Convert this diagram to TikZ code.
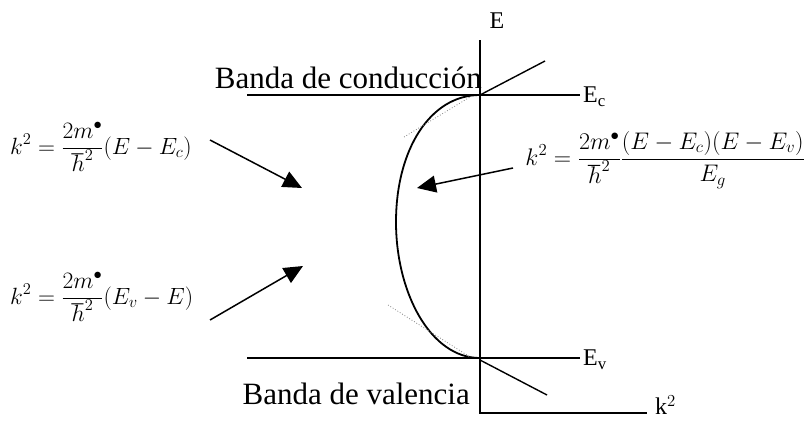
\RequirePackage{fix-cm}
\documentclass[tikz,border=0pt]{standalone}
\usepackage{fontspec}
\setmainfont{Liberation Serif}
\usetikzlibrary{arrows.meta}
\begin{document}
\begin{tikzpicture}[x=1pt,y=-1pt,
  axis/.style={line width=1.4pt},
  curve/.style={line width=1.8pt},
  band/.style={font=\fontsize{31}{34}\selectfont, inner sep=0pt},
  lbl/.style={font=\fontsize{24}{26}\selectfont, inner sep=0pt},
  eq/.style={font=\fontsize{23.5}{26}\selectfont, inner sep=0pt},
  eqr/.style={font=\fontsize{24}{27}\selectfont, inner sep=0pt},
  ptr/.style={line width=1.5pt, -{Triangle[length=19pt,width=17pt]}},
  tang/.style={gray, dotted, line width=0.8pt}]
\useasboundingbox (0,0) rectangle (808,423);
% axes
\coordinate (top) at (480,40);
\coordinate (orig) at (480,413);
\coordinate (kend) at (647,413);
\draw[axis] (top) -- (orig) -- (kend);
\node[lbl, anchor=center] (E) at (497,21) {E};
\node[lbl, anchor=west] (k2) at (655,405) {k$^2$};
% band edges
\coordinate (ecl) at (247,95);
\coordinate (ecr) at (580,95);
\coordinate (evl) at (247,358);
\coordinate (evr) at (580,358);
\coordinate (ec0) at (480,95);
\coordinate (ev0) at (480,358);
\draw[axis] (ecl) -- (ecr);
\draw[axis] (evl) -- (evr);
\node[lbl, anchor=west] (Ec) at (583,97) {E$_{\mathrm c}$};
\node[lbl, anchor=west] (Ev) at (583,360) {E$_{\mathrm v}$};
\node[band, anchor=base east] (bc) at (482,88) {Banda de conducción};
\node[band, anchor=base east] (bv) at (470,404) {Banda de valencia};
% diagonals
\coordinate (d1) at (545,61);
\coordinate (d2) at (547,395);
\draw[axis] (ec0) -- (d1);
\draw[axis] (480,360) -- (d2);
% curve
\draw[curve] (ec0) .. controls (430,95) and (396,150) .. (396,222)
            .. controls (396,292) and (430,358) .. (ev0);
% tangents
\draw[tang] (404,137) -- (470,97);
\draw[tang] (388,305) -- (470,357);
% formulas
\node[eq, anchor=west] (f1) at (10,147) {$\displaystyle k^2=\frac{2m^{\bullet}}{\hbar^2}\bigl(E-E_c\bigr)$};
\node[eq, anchor=west] (f2) at (10,297) {$\displaystyle k^2=\frac{2m^{\bullet}}{\hbar^2}\bigl(E_v-E\bigr)$};
\node[eqr, anchor=east] (f3) at (805,160) {$\displaystyle k^2=\frac{2m^{\bullet}}{\hbar^2}\frac{\bigl(E-E_c\bigr)\bigl(E-E_v\bigr)}{E_g}$};
% arrows
\coordinate (a1s) at (210,140);
\coordinate (a1e) at (302,188);
\coordinate (a2s) at (210,320);
\coordinate (a2e) at (303,266);
\coordinate (a3s) at (513,168);
\coordinate (a3e) at (417,188);
\draw[ptr] (a1s) -- (a1e);
\draw[ptr] (a2s) -- (a2e);
\draw[ptr] (a3s) -- (a3e);
\end{tikzpicture}
\end{document}
